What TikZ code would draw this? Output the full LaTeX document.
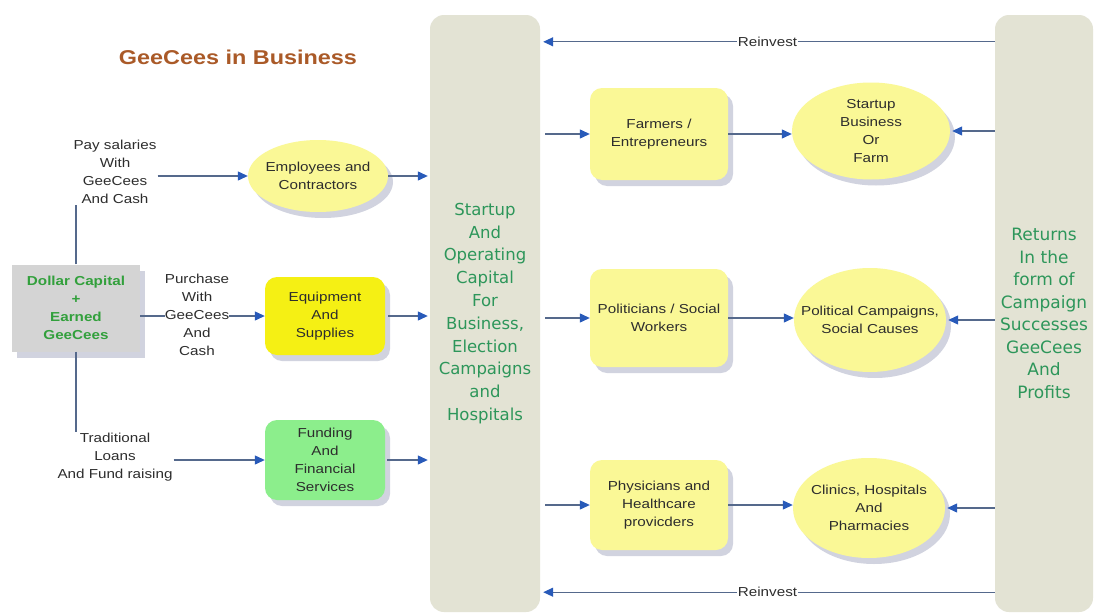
\documentclass[tikz,border=0pt]{standalone}
\usepackage{fontspec}
\setmainfont{Liberation Sans}[FakeStretch=1.17]
\newfontfamily\comicfont{DejaVu Sans}
\usetikzlibrary{arrows.meta,shapes.geometric,shadows,positioning}
\definecolor{linecol}{RGB}{85,105,140}
\definecolor{tipcol}{RGB}{40,90,185}
\definecolor{paleyel}{RGB}{250,248,150}
\definecolor{brightyel}{RGB}{245,240,20}
\definecolor{lgreen}{RGB}{140,238,140}
\definecolor{capgray}{RGB}{212,212,212}
\definecolor{tallfill}{RGB}{227,227,212}
\definecolor{greentxt}{RGB}{50,160,60}
\definecolor{comicgreen}{RGB}{45,150,90}
\definecolor{titlecol}{RGB}{170,90,40}
\definecolor{txt}{RGB}{45,45,45}
\definecolor{shadowcol}{RGB}{205,207,220}
\tikzset{
  shad/.style={drop shadow={shadow xshift=5pt,shadow yshift=-6pt,fill=shadowcol,opacity=0.9}},
  lbl/.style={align=center,text=txt,font=\fontsize{13}{18}\selectfont,inner sep=1pt},
  ell/.style={ellipse,shad,fill=paleyel,draw=none,inner sep=0pt},
  elltext/.style={align=center,text=txt,font=\fontsize{13}{18}\selectfont,inner sep=0pt},
  rbox/.style={rectangle,rounded corners=12pt,shad,draw=none,inner sep=0pt,align=center,text=txt,font=\fontsize{13}{18}\selectfont},
  tall/.style={rectangle,rounded corners=14pt,fill=tallfill,draw=none,inner sep=0pt,align=center,text=comicgreen},
  arr/.style={draw=linecol,line width=1.2pt,-{Triangle[length=10pt,width=9pt,color=tipcol]}},
  plain/.style={draw=linecol,line width=1.2pt},
  reinv/.style={fill=white,text=txt,font=\fontsize{13}{15}\selectfont,inner sep=1pt},
}
\begin{document}
\begin{tikzpicture}[x=1pt,y=-1pt]
\useasboundingbox[fill=white] (0,0) rectangle (1101,613);

% title
\node[text=titlecol,font=\bfseries\fontsize{20}{24}\selectfont] (title) at (238,57) {GeeCees in Business};

% tall boxes
\node[tall,minimum width=110pt,minimum height=597pt,font=\comicfont\fontsize{16.5}{22.8}\selectfont] (cbox) at (485,313.5)
  {Startup\\And\\Operating\\Capital\\For\\Business,\\Election\\Campaigns\\and\\Hospitals};
\node[tall,minimum width=98pt,minimum height=597pt,font=\comicfont\fontsize{17}{22.5}\selectfont] (rbox) at (1044,313.5)
  {Returns\\In the\\form of\\Campaign\\Successes\\GeeCees\\And\\Profits};

% capital box
\node[rectangle,fill=capgray,shad,minimum width=128pt,minimum height=87pt,align=center,
  text=greentxt,font=\bfseries\fontsize{13}{18}\selectfont,inner sep=0pt] (cap) at (76,308)
  {Dollar Capital\\+\\Earned\\GeeCees};

% labels
\node[lbl] (pay) at (115,172) {Pay salaries\\With\\GeeCees\\And Cash};
\node[lbl] (trad) at (115,457) {Traditional\\Loans\\And Fund raising};

% left column shapes
\node[ell,minimum width=140pt,minimum height=72pt,label={[elltext]center:{Employees and\\Contractors}}] (emp) at (318,176) {};
\node[rbox,fill=brightyel,minimum width=120pt,minimum height=78pt] (equip) at (325,316) {Equipment\\And\\Supplies};
\node[rbox,fill=lgreen,minimum width=120pt,minimum height=80pt] (fund) at (325,460) {Funding\\And\\Financial\\Services};

% middle column
\node[rbox,fill=paleyel,minimum width=138pt,minimum height=92pt] (farm) at (659,134) {Farmers /\\Entrepreneurs};
\node[rbox,fill=paleyel,minimum width=138pt,minimum height=98pt] (poli) at (659,318) {Politicians / Social\\Workers};
\node[rbox,fill=paleyel,minimum width=138pt,minimum height=90pt] (phys) at (659,505) {Physicians and\\Healthcare\\provicders};

% right ellipses
\node[ell,minimum width=158pt,minimum height=97pt,label={[elltext]center:{Startup\\Business\\Or\\Farm}}] (start) at (871,131) {};
\node[ell,minimum width=152pt,minimum height=104pt,label={[elltext]center:{Political Campaigns,\\Social Causes}}] (pcamp) at (870,320) {};
\node[ell,minimum width=152pt,minimum height=100pt,label={[elltext]center:{Clinics, Hospitals\\And\\Pharmacies}}] (clin) at (869,508) {};

% vertical trunk
\draw[plain] (cap.north) -- (cap.north |- pay.south);
\draw[plain] (cap.south) -- (cap.south |- trad.north);

% left arrows
\draw[arr] (emp.west -| pay.east) -- (emp.west);
\draw[arr,shorten >=2pt] (emp.east) -- (emp.east -| cbox.west);
\draw[arr] (cap.east |- equip.west) -- (equip.west);
\node[lbl,fill=white,inner xsep=0pt] (purch) at (197,315) {Purchase\\With\\GeeCees\\And\\Cash};
\draw[arr,shorten <=3pt,shorten >=2pt] (equip.east) -- (equip.east -| cbox.west);
\draw[arr] (fund.west -| trad.east) -- (fund.west);
\draw[arr,shorten <=2pt,shorten >=2pt] (fund.east) -- (fund.east -| cbox.west);

% center to middle
\draw[arr,shorten <=5pt] (farm.west -| cbox.east) -- (farm.west);
\draw[arr,shorten <=5pt] (poli.west -| cbox.east) -- (poli.west);
\draw[arr,shorten <=5pt] (phys.west -| cbox.east) -- (phys.west);

% middle to ellipses
\draw[arr] (farm.east) -- (farm.east -| start.west);
\draw[arr] (poli.east) -- (poli.east -| pcamp.west);
\draw[arr] (phys.east) -- (phys.east -| clin.west);

% returns to ellipses
\draw[arr] (start.east -| rbox.west) -- ([xshift=2pt]start.east);
\draw[arr] (pcamp.east -| rbox.west) -- ([xshift=2pt]pcamp.east);
\draw[arr] (clin.east -| rbox.west) -- ([xshift=2pt]clin.east);

% reinvest
\draw[arr,shorten >=3pt] ([yshift=-27pt]rbox.north west) -- ([yshift=-27pt]cbox.north east)
  node[pos=0.5,reinv] (rtop) {Reinvest};
\draw[arr,shorten >=3pt] ([yshift=20pt]rbox.south west) -- ([yshift=20pt]cbox.south east)
  node[pos=0.5,reinv] (rbot) {Reinvest};
\end{tikzpicture}
\end{document}
